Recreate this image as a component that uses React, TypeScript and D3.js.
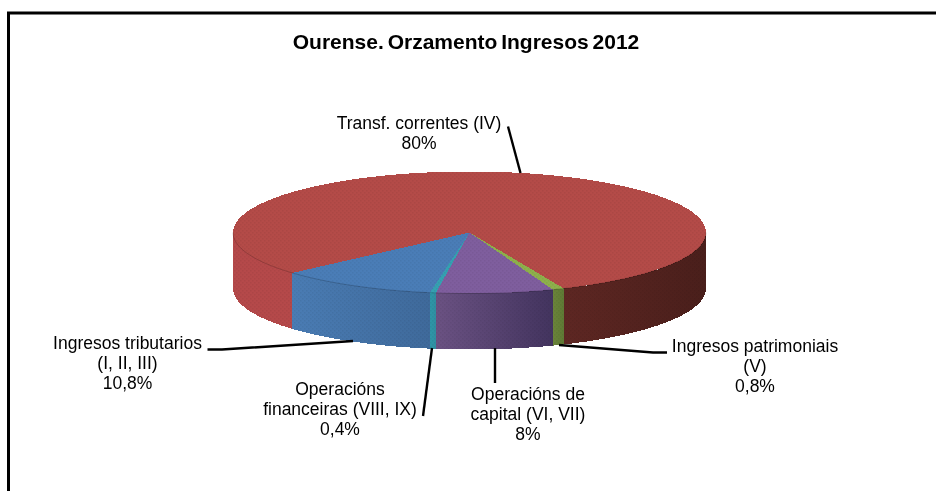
import React from "react";
import * as d3 from "d3";

const title = "Ourense. Orzamento Ingresos 2012";
const categories = [
  "Transf. correntes (IV)",
  "Ingresos patrimoniais (V)",
  "Operacións de capital (VI, VII)",
  "Operacións financeiras (VIII, IX)",
  "Ingresos tributarios (I, II, III)",
];
const shares = [80, 0.8, 8, 0.4, 10.8];
const shareLabels = ["80%", "0,8%", "8%", "0,4%", "10,8%"];
const labelLines = [
  ["Transf. correntes (IV)"],
  ["Ingresos patrimoniais", "(V)"],
  ["Operacións de", "capital (VI, VII)"],
  ["Operacións", "financeiras (VIII, IX)"],
  ["Ingresos tributarios", "(I, II, III)"],
];

const topColors = ["#B44B48", "#8EB04C", "#7F5E9E", "#36A0B2", "#4A7DB7"];
const sideFrom = ["#5E2723", "#6B843A", "#6B5283", "#2F96A8", "#4A7CB4"];
const sideTo = ["#4A1F1B", "#5F7A35", "#43345F", "#2F8FA2", "#3F6A9B"];
const leftRed = "#B5494A";

const labelLayout = [
  { x: 419, y: 129 },
  { x: 755, y: 352 },
  { x: 528, y: 400 },
  { x: 340, y: 395 },
  { x: 127.5, y: 349 },
];
const leaders = [
  [[508, 126.5], [520.5, 173]],
  [[559, 345], [653, 352.5], [667, 352.5]],
  [[495, 348], [495, 383]],
  [[423, 416], [432, 348]],
  [[207.5, 349.5], [222, 349.5], [353, 341]],
];

const W = 936;
const H = 491;
const cx = 469.5;
const cy = 232.5;
const rx = 236.5;
const ry = 61;
const depth = 56;
const deg = Math.PI / 180;
const start = 228.5 * deg;

const slices = d3
  .pie<number>()
  .sort(null)
  .startAngle(start)
  .endAngle(start + 2 * Math.PI)(shares);

const px = d3.scaleLinear().domain([-1, 1]).range([cx - rx, cx + rx]);
const py = d3.scaleLinear().domain([-1, 1]).range([cy - ry, cy + ry]);
const rim = (a: number): [number, number] => [px(Math.sin(a)), py(-Math.cos(a))];
const line = d3.line<[number, number]>();

function sample(a0: number, a1: number): number[] {
  const n = Math.max(2, Math.ceil(Math.abs(a1 - a0) / (0.5 * deg)));
  return d3.range(n + 1).map((i) => a0 + ((a1 - a0) * i) / n);
}

function topPath(a0: number, a1: number) {
  return line([[cx, cy], ...sample(a0, a1).map(rim)] as [number, number][]) + "Z";
}

function sidePath(a0: number, a1: number) {
  const upper = sample(a0, a1).map(rim);
  const lower = upper.map(([x, y]) => [x, y + depth] as [number, number]).reverse();
  return line([...upper, ...lower]) + "Z";
}

// visible (front) part of a slice's wall: angles between 90° and 270°, modulo a turn
function frontParts(a0: number, a1: number): [number, number][] {
  const out: [number, number][] = [];
  for (const k of [-1, 0, 1]) {
    const lo = Math.max(a0, 90 * deg + k * 2 * Math.PI);
    const hi = Math.min(a1, 270 * deg + k * 2 * Math.PI);
    if (hi > lo) out.push([lo, hi]);
  }
  return out;
}

export default function App() {
  return (
    <svg
      width={W}
      height={H}
      viewBox={`0 0 ${W} ${H}`}
      style={{ position: "absolute", left: 0, top: 0, background: "#fff" }}
      fontFamily="'Liberation Sans', Arial, sans-serif"
    >
      <defs>
        <filter id="soft" x="-5%" y="-5%" width="110%" height="110%">
          <feGaussianBlur stdDeviation="0.35" />
        </filter>
        <pattern id="dots" width="4" height="4" patternUnits="userSpaceOnUse">
          <rect x="0" y="0" width="1.5" height="1.5" fill="#000" opacity="0.05" />
          <rect x="2" y="2" width="1.5" height="1.5" fill="#000" opacity="0.05" />
        </pattern>
        {categories.map((_, i) => (
          <linearGradient key={i} id={`side${i}`} gradientUnits="objectBoundingBox" x1="0" x2="1" y1="0" y2="0">
            <stop offset="0" stopColor={sideFrom[i]} />
            <stop offset="1" stopColor={sideTo[i]} />
          </linearGradient>
        ))}
      </defs>

      <path d={`M8.5 491V13H936`} fill="none" stroke="#000" strokeWidth={3} />

      <g shapeRendering="crispEdges">
        {slices.map((s, i) =>
          frontParts(s.startAngle, s.endAngle).map(([a, b], j) => {
            const isLeft = Math.sin((a + b) / 2) < 0 && i === 0;
            const d = sidePath(a, b);
            return (
              <g key={`${i}-${j}`}>
                <path d={d} fill={isLeft ? leftRed : `url(#side${i})`} />
                <path d={d} fill="url(#dots)" />
              </g>
            );
          })
        )}
        {slices.map((s, i) => (
          <g key={i}>
            <path d={topPath(s.startAngle, s.endAngle)} fill={topColors[i]} />
            <path d={topPath(s.startAngle, s.endAngle)} fill="url(#dots)" />
          </g>
        ))}
      </g>
      {/* soft shaded edge where the lid meets the wall */}
      <path
        d={line(sample(90 * deg, 270 * deg).map(rim)) as string}
        fill="none"
        stroke="#000"
        strokeOpacity={0.18}
        strokeWidth={1}
      />

      <g stroke="#000" strokeWidth={2.4} fill="none">
        {leaders.map((pts, i) => (
          <path key={i} d={line(pts as [number, number][]) as string} />
        ))}
      </g>

      <g filter="url(#soft)" fill="#000" textAnchor="middle">
        <text x={466} y={49} fontSize={21} fontWeight="bold" wordSpacing={-2}>
          {title}
        </text>
        {categories.map((_, i) => {
          const lines = [...labelLines[i], shareLabels[i]];
          return (
            <text key={i} fontSize={17.5} x={labelLayout[i].x} y={labelLayout[i].y}>
              {lines.map((t, k) => (
                <tspan key={k} x={labelLayout[i].x} dy={k === 0 ? 0 : 20}>
                  {t}
                </tspan>
              ))}
            </text>
          );
        })}
      </g>
    </svg>
  );
}
